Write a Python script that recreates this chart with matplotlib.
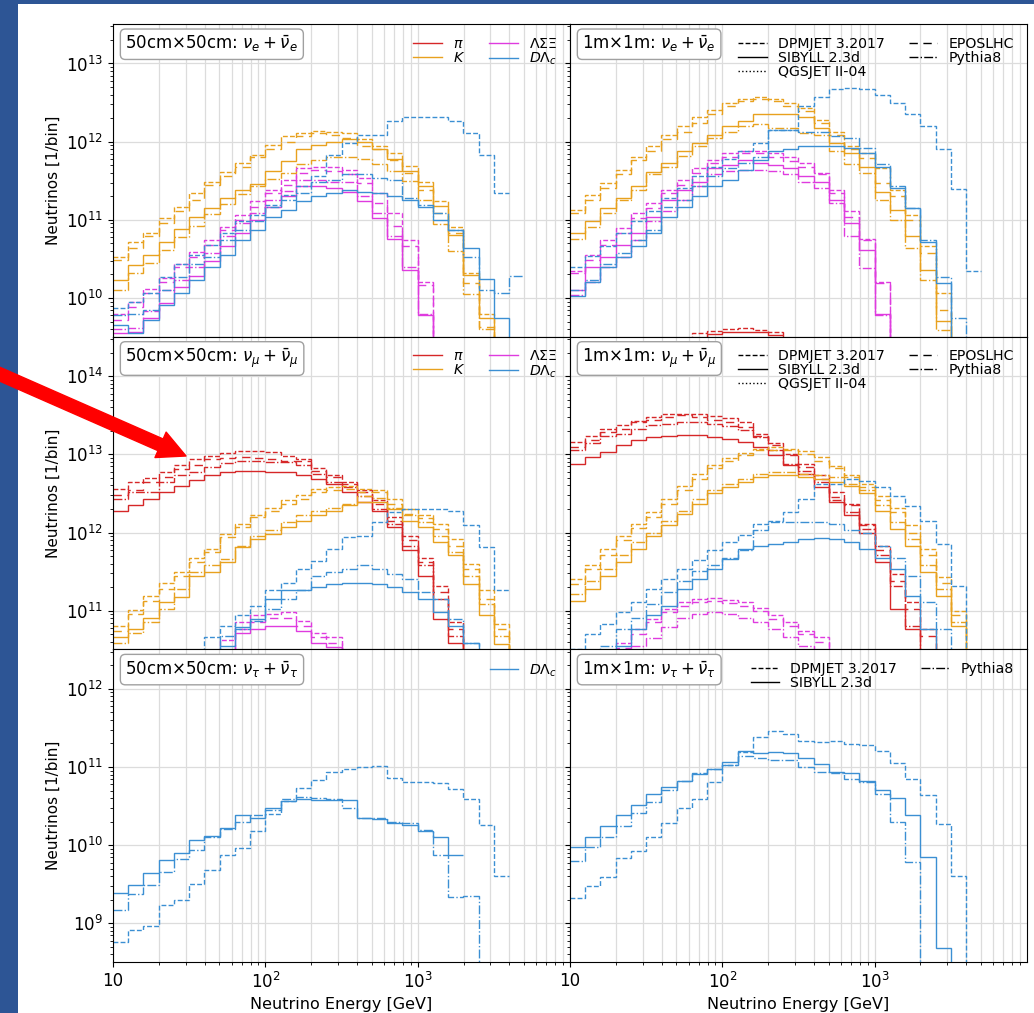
import numpy as np
import matplotlib.pyplot as plt
from matplotlib.lines import Line2D
from matplotlib.patches import FancyArrowPatch, Rectangle

nan = np.nan

# energy bins: 10 per decade, starting at 10 GeV
edges = 10 ** (1 + np.arange(37) / 10)

# all values are log10(neutrinos per bin), nan = empty bin

# ---- 50cm x 50cm, nu_e ----
e50_K_dpm = [10.53, 10.72, 10.83, 11.02, 11.17, 11.34, 11.49, 11.61, 11.73, 11.83, 11.96, 12.07, 12.11, 12.14, 12.13, 12.11, 12.03, 11.94, 11.85, 11.69, 11.49, 11.24, 10.91, 10.32, 9.80, nan]
e50_K_epos = [10.49, 10.64, 10.79, 10.96, 11.11, 11.26, 11.45, 11.56, 11.68, 11.81, 11.91, 12.00, 12.07, 12.11, 12.09, 12.05, 11.94, 11.91, 11.77, 11.60, 11.38, 11.09, 10.83, 10.19, 9.63, nan]
e50_K_p8 = [10.10, 10.32, 10.45, 10.62, 10.78, 10.92, 11.07, 11.20, 11.33, 11.43, 11.52, 11.60, 11.72, 11.76, 11.80, 11.80, 11.78, 11.72, 11.62, 11.50, 11.25, 10.95, 10.60, 10.05, 9.60, nan]
e50_K_sib = [10.23, 10.42, 10.55, 10.72, 10.88, 11.03, 11.15, 11.28, 11.38, 11.46, 11.62, 11.75, 11.90, 11.96, 12.00, 12.03, 12.00, 11.90, 11.78, 11.62, 11.43, 11.18, 10.80, 10.30, 9.75, nan]
e50_L_dpm = [9.80, 9.95, 10.12, 10.25, 10.44, 10.59, 10.74, 10.91, 11.06, 11.24, 11.38, 11.51, 11.66, 11.68, 11.68, 11.64, 11.53, 11.34, 11.09, 10.74, 10.21, nan]
e50_L_epos = [9.72, 9.88, 10.06, 10.20, 10.40, 10.53, 10.68, 10.87, 11.00, 11.17, 11.34, 11.45, 11.60, 11.64, 11.62, 11.58, 11.47, 11.21, 10.92, 10.66, 10.17, nan]
e50_L_p8 = [9.60, 9.62, 9.84, 10.10, 10.23, 10.40, 10.57, 10.79, 10.96, 11.09, 11.26, 11.37, 11.51, 11.51, 11.49, 11.49, 11.30, 11.09, 10.79, 10.40, 9.80, nan]
e50_L_sib = [9.55, 9.57, 9.75, 9.93, 10.14, 10.28, 10.47, 10.66, 10.83, 11.00, 11.17, 11.30, 11.43, 11.43, 11.41, 11.36, 11.24, 11.02, 10.76, 10.36, 9.78, nan]
e50_D_dpm = [9.87, 9.95, 10.06, 10.27, 10.44, 10.55, 10.68, 10.83, 10.98, 11.06, 11.19, 11.32, 11.43, 11.56, 11.83, 11.98, 12.09, 12.09, 12.26, 12.32, 12.32, 12.32, 12.26, 12.11, 11.83, 11.34]
e50_D_p8 = [9.78, 9.80, 9.85, 10.10, 10.27, 10.44, 10.53, 10.74, 10.87, 10.98, 11.17, 11.26, 11.34, 11.49, 11.51, 11.58, 11.58, 11.53, 11.51, 11.28, 11.19, 11.09, 10.87, 10.53, 10.10, 10.06, 10.28]
e50_D_sib = [9.65, 9.55, 9.72, 9.91, 10.06, 10.23, 10.40, 10.55, 10.74, 10.87, 11.04, 11.13, 11.24, 11.30, 11.34, 11.38, 11.36, 11.34, 11.30, 11.26, 11.17, 11.00, 10.87, 10.64, 10.24, 9.74, nan]

# ---- 1m x 1m, nu_e ----
e1m_pi_dpm = [nan] * 8 + [9.55, 9.58, 9.60, 9.61, 9.59, 9.56, nan]
e1m_pi_sib = [nan] * 9 + [9.54, 9.56, 9.57, 9.56, 9.53, nan]
e1m_K_dpm = [11.13, 11.32, 11.47, 11.64, 11.81, 11.95, 12.09, 12.20, 12.32, 12.41, 12.50, 12.55, 12.57, 12.54, 12.50, 12.43, 12.28, 12.13, 11.94, 11.85, 11.66, 11.38, 11.06, 10.66, 10.06, nan]
e1m_K_epos = [11.09, 11.26, 11.41, 11.58, 11.77, 11.88, 12.03, 12.13, 12.24, 12.35, 12.45, 12.52, 12.54, 12.52, 12.45, 12.39, 12.24, 12.09, 11.90, 11.79, 11.47, 11.30, 11.00, 10.57, 9.85, nan]
e1m_K_p8 = [10.76, 10.91, 11.09, 11.26, 11.38, 11.58, 11.68, 11.82, 11.94, 12.05, 12.13, 12.20, 12.22, 12.18, 12.18, 12.11, 12.09, 11.88, 11.71, 11.60, 11.26, 11.00, 10.64, 10.23, 9.59, nan]
e1m_K_sib = [10.83, 10.98, 11.15, 11.28, 11.43, 11.61, 11.73, 11.88, 11.98, 12.09, 12.20, 12.26, 12.35, 12.35, 12.35, 12.32, 12.18, 11.98, 11.85, 11.68, 11.36, 11.13, 10.79, 10.36, 9.70, nan]
e1m_L_dpm = [10.34, 10.55, 10.74, 10.89, 11.09, 11.21, 11.38, 11.51, 11.66, 11.76, 11.85, 11.88, 11.88, 11.86, 11.81, 11.73, 11.60, 11.38, 11.11, 10.76, 10.21, nan]
e1m_L_epos = [10.32, 10.49, 10.68, 10.83, 11.02, 11.15, 11.34, 11.45, 11.60, 11.73, 11.81, 11.85, 11.85, 11.81, 11.75, 11.68, 11.58, 11.34, 11.04, 10.74, 10.19, nan]
e1m_L_p8 = [10.04, 10.21, 10.40, 10.53, 10.74, 10.98, 11.11, 11.26, 11.43, 11.58, 11.62, 11.64, 11.64, 11.62, 11.58, 11.49, 11.41, 11.21, 10.79, 10.38, 9.78, nan]
e1m_L_sib = [10.10, 10.40, 10.53, 10.68, 10.83, 11.04, 11.26, 11.38, 11.49, 11.66, 11.70, 11.77, 11.73, 11.70, 11.66, 11.56, 11.49, 11.26, 10.96, 10.62, 9.80, nan]
e1m_D_dpm = [10.40, 10.54, 10.67, 10.83, 10.98, 11.11, 11.28, 11.41, 11.56, 11.68, 11.78, 11.88, 11.98, 12.15, 12.15, 12.45, 12.57, 12.67, 12.69, 12.68, 12.60, 12.50, 12.36, 12.20, 11.90, 11.39, 10.34]
e1m_D_p8 = [10.10, 10.23, 10.44, 10.57, 10.74, 10.87, 11.17, 11.26, 11.43, 11.56, 11.66, 11.73, 11.81, 12.15, 12.15, 12.13, 12.13, 12.07, 12.05, 11.92, 11.71, 11.43, 11.15, 10.74, 10.27, 9.74, nan]
e1m_D_sib = [10.02, 10.21, 10.40, 10.53, 10.66, 10.83, 11.04, 11.17, 11.30, 11.43, 11.51, 11.64, 11.77, 11.88, 11.90, 11.94, 11.94, 11.94, 11.92, 11.85, 11.68, 11.41, 11.15, 10.72, 10.19, nan]

# ---- 50cm x 50cm, nu_mu ----
mu50_pi_dpm = [12.56, 12.65, 12.70, 12.77, 12.86, 12.94, 12.98, 13.02, 13.04, 13.04, 13.03, 12.98, 12.94, 12.82, 12.74, 12.65, 12.54, 12.41, 12.20, 11.96, 11.68, 11.32, 10.85, nan]
mu50_pi_epos = [12.48, 12.55, 12.65, 12.71, 12.81, 12.87, 12.94, 12.95, 12.97, 12.95, 12.94, 12.92, 12.91, 12.79, 12.71, 12.62, 12.52, 12.37, 12.15, 11.90, 11.62, 11.24, 10.76, nan]
mu50_pi_p8 = [12.43, 12.52, 12.52, 12.65, 12.73, 12.78, 12.84, 12.89, 12.91, 12.91, 12.90, 12.90, 12.87, 12.75, 12.65, 12.58, 12.47, 12.30, 12.11, 11.83, 11.58, 11.15, 10.68, nan]
mu50_pi_sib = [12.28, 12.35, 12.43, 12.52, 12.60, 12.67, 12.74, 12.78, 12.79, 12.79, 12.78, 12.77, 12.74, 12.69, 12.62, 12.52, 12.39, 12.28, 12.07, 11.77, 11.45, 10.89, 10.59, nan]
mu50_K_dpm = [10.81, 11.01, 11.19, 11.36, 11.49, 11.68, 11.79, 11.98, 12.11, 12.22, 12.32, 12.42, 12.48, 12.56, 12.58, 12.60, 12.56, 12.54, 12.43, 12.30, 12.22, 12.11, 11.92, 11.60, 11.26, 10.83, nan]
mu50_K_epos = [10.74, 10.96, 11.13, 11.28, 11.45, 11.62, 11.75, 11.94, 12.07, 12.20, 12.28, 12.37, 12.43, 12.52, 12.55, 12.56, 12.52, 12.52, 12.37, 12.24, 12.18, 12.05, 11.83, 11.53, 11.15, 10.76, nan]
mu50_K_p8 = [10.59, 10.72, 10.85, 11.02, 11.28, 11.49, 11.58, 11.66, 11.83, 11.96, 12.03, 12.13, 12.22, 12.27, 12.32, 12.37, 12.47, 12.44, 12.32, 12.22, 12.13, 11.96, 11.75, 11.45, 11.09, 10.68, nan]
mu50_K_sib = [10.66, 10.77, 10.91, 11.11, 11.17, 11.45, 11.49, 11.62, 11.81, 11.92, 11.98, 12.07, 12.15, 12.22, 12.28, 12.35, 12.39, 12.39, 12.30, 12.15, 12.07, 11.88, 11.71, 11.34, 10.94, 10.57, nan]
mu50_L_dpm = [nan] * 7 + [10.62, 10.85, 10.94, 10.96, 10.98, 10.87, 10.72, 10.66, nan]
mu50_L_epos = [nan] * 8 + [10.77, 10.85, 10.91, 10.91, 10.81, 10.66, 10.59, nan]
mu50_L_sib = [nan] * 8 + [10.72, 10.76, 10.81, 10.81, 10.74, 10.59, 10.53, nan]
mu50_D_dpm = [nan] * 6 + [10.66, 10.81, 10.94, 11.06, 11.26, 11.36, 11.53, 11.64, 11.79, 11.94, 11.96, 12.13, 12.26, 12.30, 12.30, 12.30, 12.28, 12.09, 11.81, 11.27]
mu50_D_p8 = [nan] * 7 + [10.68, 10.76, 10.87, 11.02, 11.15, 11.26, 11.45, 11.49, 11.53, 11.58, 11.53, 11.47, 11.41, 11.24, 11.15, 10.89, 10.59, nan]
mu50_D_sib = [nan] * 7 + [10.55, 10.79, 10.89, 11.15, 11.26, 11.26, 11.30, 11.34, 11.35, 11.35, 11.34, 11.30, 11.24, 11.15, 10.98, 10.81, 10.59, nan]

# ---- 1m x 1m, nu_mu ----
mu1m_pi_dpm = [13.16, 13.24, 13.32, 13.37, 13.43, 13.48, 13.51, 13.52, 13.51, 13.49, 13.46, 13.41, 13.26, 13.14, 13.01, 12.88, 12.73, 12.52, 12.37, 12.11, 11.83, 11.47, 11.11, 10.76, nan]
mu1m_pi_epos = [13.09, 13.18, 13.29, 13.33, 13.41, 13.44, 13.48, 13.50, 13.48, 13.44, 13.41, 13.35, 13.24, 13.12, 12.99, 12.84, 12.69, 12.45, 12.35, 12.09, 11.77, 11.38, 11.02, 10.68, nan]
mu1m_pi_p8 = [13.05, 13.14, 13.24, 13.26, 13.33, 13.37, 13.39, 13.41, 13.41, 13.39, 13.36, 13.31, 13.22, 13.05, 12.88, 12.79, 12.65, 12.41, 12.26, 12.05, 11.71, 11.32, 10.81, nan]
mu1m_pi_sib = [12.88, 12.97, 13.03, 13.12, 13.18, 13.22, 13.24, 13.25, 13.25, 13.22, 13.20, 13.16, 13.09, 12.99, 12.86, 12.75, 12.58, 12.39, 12.22, 12.00, 11.62, 11.02, 10.76, nan]
mu1m_K_dpm = [11.41, 11.58, 11.79, 11.96, 12.11, 12.26, 12.43, 12.60, 12.75, 12.87, 12.95, 13.02, 13.07, 13.09, 13.07, 13.04, 12.97, 12.85, 12.73, 12.62, 12.47, 12.32, 12.09, 11.79, 11.43, 11.00, nan]
mu1m_K_epos = [11.34, 11.53, 11.71, 11.90, 12.06, 12.20, 12.37, 12.54, 12.69, 12.82, 12.92, 12.99, 13.05, 13.06, 13.05, 13.01, 12.92, 12.82, 12.71, 12.58, 12.41, 12.26, 12.00, 11.71, 11.36, 10.94, nan]
mu1m_K_p8 = [11.21, 11.38, 11.53, 11.71, 11.88, 12.00, 12.15, 12.28, 12.43, 12.55, 12.62, 12.69, 12.75, 12.77, 12.77, 12.75, 12.73, 12.71, 12.62, 12.55, 12.35, 12.13, 11.92, 11.58, 11.28, 10.85, nan]
mu1m_K_sib = [11.13, 11.28, 11.45, 11.62, 11.79, 11.96, 12.09, 12.24, 12.37, 12.50, 12.58, 12.65, 12.71, 12.73, 12.73, 12.71, 12.68, 12.65, 12.60, 12.50, 12.28, 12.05, 11.83, 11.49, 11.19, 10.81, nan]
mu1m_L_dpm = [nan] * 3 + [10.59, 10.76, 10.89, 11.02, 11.11, 11.15, 11.16, 11.14, 11.11, 11.04, 10.94, 10.85, 10.74, 10.66, nan]
mu1m_L_epos = [nan] * 3 + [10.52, 10.70, 10.85, 10.98, 11.06, 11.11, 11.12, 11.10, 11.06, 10.99, 10.89, 10.80, 10.70, 10.60, nan]
mu1m_L_p8 = [nan] * 4 + [10.55, 10.65, 10.79, 10.91, 10.96, 10.98, 10.96, 10.91, 10.85, 10.76, 10.66, 10.55, nan]
mu1m_D_dpm = [10.51, 10.70, 10.83, 10.98, 11.11, 11.28, 11.41, 11.53, 11.65, 11.77, 11.88, 11.97, 12.11, 12.15, 12.26, 12.43, 12.62, 12.62, 12.68, 12.66, 12.58, 12.47, 12.34, 12.15, 11.85, 11.31, nan]
mu1m_D_p8 = [nan, nan, 10.55, 10.76, 10.91, 11.09, 11.24, 11.38, 11.51, 11.58, 11.67, 11.77, 12.03, 12.13, 12.13, 12.13, 12.13, 12.11, 12.03, 12.00, 11.83, 11.68, 11.45, 11.11, 10.76, nan]
mu1m_D_sib = [nan, nan, nan, 10.55, 10.76, 10.94, 11.06, 11.28, 11.41, 11.53, 11.66, 11.79, 11.83, 11.85, 11.88, 11.92, 11.93, 11.92, 11.88, 11.79, 11.68, 11.53, 11.19, 10.76, nan]

# ---- nu_tau (charm only) ----
tau50_D_dpm = [8.76, 8.91, 8.96, 9.24, 9.30, 9.50, 9.68, 9.88, 9.97, 10.18, 10.40, 10.56, 10.73, 10.84, 10.94, 10.97, 11.00, 11.01, 10.86, 10.81, 10.81, 10.79, 10.72, 10.59, 10.26, 9.61]
tau50_D_p8 = [9.17, 9.37, 9.49, 9.66, 9.82, 9.94, 10.11, 10.21, 10.30, 10.38, 10.45, 10.59, 10.62, 10.60, 10.59, 10.47, 10.35, 10.35, 10.30, 10.28, 10.20, 9.88, 9.34, 9.35, nan]
tau50_D_sib = [9.39, 9.49, 9.65, 9.81, 9.90, 10.07, 10.12, 10.22, 10.38, 10.35, 10.47, 10.56, 10.59, 10.58, 10.58, 10.58, 10.35, 10.33, 10.28, 10.26, 10.18, 10.11, 9.88]
tau1m_D_dpm = [9.33, 9.48, 9.59, 9.83, 9.92, 10.11, 10.29, 10.48, 10.59, 10.81, 11.03, 11.19, 11.38, 11.46, 11.42, 11.33, 11.32, 11.33, 11.30, 11.28, 11.20, 11.05, 10.85, 10.64, 10.27, 9.61, nan]
tau1m_D_p8 = [9.80, 9.98, 10.10, 10.25, 10.41, 10.55, 10.71, 10.82, 10.92, 10.97, 11.03, 11.14, 11.12, 11.09, 11.09, 11.00, 10.94, 10.92, 10.85, 10.81, 10.66, 10.30, 9.78, nan]
tau1m_D_sib = [9.98, 10.10, 10.25, 10.39, 10.52, 10.66, 10.74, 10.82, 10.91, 10.97, 11.07, 11.20, 11.18, 11.19, 11.18, 11.12, 11.04, 10.94, 10.92, 10.82, 10.71, 10.61, 10.39, 9.85, 8.68, nan]

row_ylims = [(3.2e9, 3.2e13), (3.2e10, 3.2e14), (3.2e8, 3.2e12)]
row_flavours = [r'$\nu_e + \bar{\nu}_e$', r'$\nu_\mu + \bar{\nu}_\mu$', r'$\nu_\tau + \bar{\nu}_\tau$']
col_sizes = ['50cm×50cm: ', '1m×1m: ']

c_pi, c_K, c_L, c_D = '#d62728', '#e8a11e', '#df3bdf', '#3b8fd3'
ls_gen = {'dpm': (0, (3.5, 1.6)), 'sib': '-', 'qgs': ':', 'epos': (0, (6, 4)), 'p8': '-.'}

panels = {
    (0, 0): [(c_K, 'dpm', e50_K_dpm), (c_K, 'epos', e50_K_epos), (c_K, 'p8', e50_K_p8), (c_K, 'sib', e50_K_sib),
             (c_L, 'dpm', e50_L_dpm), (c_L, 'epos', e50_L_epos), (c_L, 'p8', e50_L_p8), (c_L, 'sib', e50_L_sib),
             (c_D, 'dpm', e50_D_dpm), (c_D, 'p8', e50_D_p8), (c_D, 'sib', e50_D_sib)],
    (0, 1): [(c_pi, 'dpm', e1m_pi_dpm), (c_pi, 'sib', e1m_pi_sib),
             (c_K, 'dpm', e1m_K_dpm), (c_K, 'epos', e1m_K_epos), (c_K, 'p8', e1m_K_p8), (c_K, 'sib', e1m_K_sib),
             (c_L, 'dpm', e1m_L_dpm), (c_L, 'epos', e1m_L_epos), (c_L, 'p8', e1m_L_p8), (c_L, 'sib', e1m_L_sib),
             (c_D, 'dpm', e1m_D_dpm), (c_D, 'p8', e1m_D_p8), (c_D, 'sib', e1m_D_sib)],
    (1, 0): [(c_pi, 'dpm', mu50_pi_dpm), (c_pi, 'epos', mu50_pi_epos), (c_pi, 'p8', mu50_pi_p8), (c_pi, 'sib', mu50_pi_sib),
             (c_K, 'dpm', mu50_K_dpm), (c_K, 'epos', mu50_K_epos), (c_K, 'p8', mu50_K_p8), (c_K, 'sib', mu50_K_sib),
             (c_L, 'dpm', mu50_L_dpm), (c_L, 'epos', mu50_L_epos), (c_L, 'sib', mu50_L_sib),
             (c_D, 'dpm', mu50_D_dpm), (c_D, 'p8', mu50_D_p8), (c_D, 'sib', mu50_D_sib)],
    (1, 1): [(c_pi, 'dpm', mu1m_pi_dpm), (c_pi, 'epos', mu1m_pi_epos), (c_pi, 'p8', mu1m_pi_p8), (c_pi, 'sib', mu1m_pi_sib),
             (c_K, 'dpm', mu1m_K_dpm), (c_K, 'epos', mu1m_K_epos), (c_K, 'p8', mu1m_K_p8), (c_K, 'sib', mu1m_K_sib),
             (c_L, 'dpm', mu1m_L_dpm), (c_L, 'epos', mu1m_L_epos), (c_L, 'p8', mu1m_L_p8),
             (c_D, 'dpm', mu1m_D_dpm), (c_D, 'p8', mu1m_D_p8), (c_D, 'sib', mu1m_D_sib)],
    (2, 0): [(c_D, 'dpm', tau50_D_dpm), (c_D, 'p8', tau50_D_p8), (c_D, 'sib', tau50_D_sib)],
    (2, 1): [(c_D, 'dpm', tau1m_D_dpm), (c_D, 'p8', tau1m_D_p8), (c_D, 'sib', tau1m_D_sib)],
}

fig, axes = plt.subplots(3, 2, figsize=(10.34, 10.13), dpi=100, sharex=True, sharey='row',
                         facecolor='#2d5595')
fig.subplots_adjust(left=0.1093, right=0.9932, top=0.9763, bottom=0.0503, wspace=0, hspace=0)
fig.add_artist(Rectangle((18 / 1034, 0), 1, 1 - 4 / 1013, transform=fig.transFigure,
                         fc='white', ec='none', zorder=-10))

for (r, c), curves in panels.items():
    ax = axes[r, c]
    for color, gen, logv in curves:
        v = np.array(logv, dtype=float)
        y = np.where(np.isnan(v), 0.0, 10.0 ** v)
        ax.stairs(y, edges[:len(y) + 1], baseline=None, color=color, ls=ls_gen[gen], lw=1.0)
    ax.set_xscale('log')
    ax.set_yscale('log')
    ax.set_xlim(10, 1e4)
    ax.set_ylim(*row_ylims[r])
    ax.set_axisbelow(True)
    ax.grid(which='major', color='#dcdcdc', lw=0.9)
    ax.grid(which='minor', axis='x', color='#dcdcdc', lw=0.9)
    ax.tick_params(labelsize=12)
    ax.text(0.027, 0.968, col_sizes[c] + row_flavours[r], transform=ax.transAxes,
            ha='left', va='top', fontsize=12, zorder=6,
            bbox=dict(boxstyle='round,pad=0.3', fc='white', ec='#a0a0a0', lw=1))
    if c == 0:
        ax.set_ylabel('Neutrinos [1/bin]', fontsize=11)
    if r == 2:
        ax.set_xlabel('Neutrino Energy [GeV]', fontsize=11.5)

axes[2, 0].set_xticks([10, 100, 1000], ['10', '$10^2$', '$10^3$'])

leg_kw = dict(loc='upper right', frameon=False, fontsize=10.2, labelspacing=0.0,
              handlelength=2.0, borderaxespad=0.5, columnspacing=1.7, ncol=2)

species_h = [Line2D([], [], color=c_pi, lw=1), Line2D([], [], color=c_K, lw=1),
             Line2D([], [], color=c_L, lw=1), Line2D([], [], color=c_D, lw=1)]
species_l = [r'$\pi$', r'$K$', r'$\Lambda\Sigma\Xi$', r'$D\Lambda_c$']
for r in (0, 1):
    axes[r, 0].legend(species_h, species_l, **leg_kw)
axes[2, 0].legend([species_h[3]], [species_l[3]], loc='upper right', frameon=False,
                  fontsize=10.2, borderaxespad=0.5)

gen_names = {'dpm': 'DPMJET 3.2017', 'sib': 'SIBYLL 2.3d', 'qgs': 'QGSJET II-04',
             'epos': 'EPOSLHC', 'p8': 'Pythia8'}
for r, gens in ((0, ['dpm', 'sib', 'qgs', 'epos', 'p8']), (1, ['dpm', 'sib', 'qgs', 'epos', 'p8']),
                (2, ['dpm', 'sib', 'p8'])):
    hs = [Line2D([], [], color='k', lw=1, ls=ls_gen[g]) for g in gens]
    axes[r, 1].legend(hs, [gen_names[g] for g in gens], **leg_kw)

arrow = FancyArrowPatch((-0.005, 1 - 372 / 1013), (186 / 1034, 1 - 456 / 1013),
                        transform=fig.transFigure, arrowstyle='simple,head_length=1.0,head_width=1.0,tail_width=0.46',
                        mutation_scale=20, color='#ff0000', shrinkA=0, shrinkB=0, zorder=20)
fig.add_artist(arrow)

fig.savefig('out.png', dpi=100, facecolor=fig.get_facecolor())
